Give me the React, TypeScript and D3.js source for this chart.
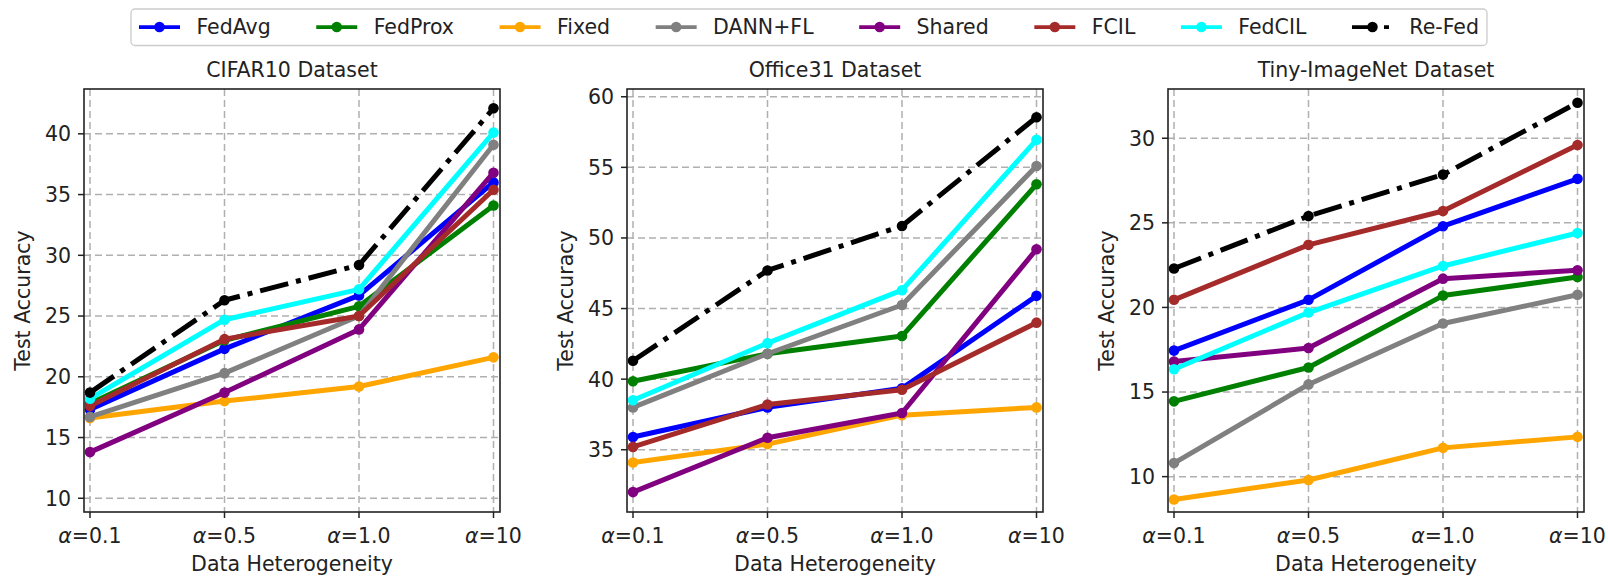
import React from 'react';
import * as d3 from 'd3';

// ---------- data ----------
const alphaLabels = ['0.1', '0.5', '1.0', '10'];
const methods = ['FedAvg', 'FedProx', 'Fixed', 'DANN+FL', 'Shared', 'FCIL', 'FedCIL', 'Re-Fed'];
const methodColors = ['#0000ff', '#008000', '#ffa500', '#808080', '#800080', '#a52a2a', '#00ffff', '#000000'];
const datasetTitles = ['CIFAR10 Dataset', 'Office31 Dataset', 'Tiny-ImageNet Dataset'];

// values per method (same order as `methods`), per alpha
const cifar10Values = [
  [17.3, 22.3, 26.7, 36.0],
  [17.8, 23.0, 25.8, 34.1],
  [16.6, 18.0, 19.2, 21.6],
  [16.7, 20.3, 25.0, 39.1],
  [13.8, 18.7, 23.9, 36.8],
  [17.6, 23.1, 25.0, 35.4],
  [18.2, 24.7, 27.2, 40.1],
  [18.7, 26.3, 29.2, 42.1],
];
const office31Values = [
  [35.9, 38.0, 39.35, 45.9],
  [39.85, 41.8, 43.05, 53.8],
  [34.1, 35.4, 37.45, 38.0],
  [38.0, 41.8, 45.25, 55.1],
  [32.0, 35.85, 37.6, 49.2],
  [35.2, 38.2, 39.25, 44.0],
  [38.5, 42.55, 46.3, 56.95],
  [41.3, 47.7, 50.85, 58.55],
];
const tinyImageNetValues = [
  [17.45, 20.45, 24.8, 27.6],
  [14.45, 16.45, 20.7, 21.8],
  [8.65, 9.8, 11.7, 12.35],
  [10.8, 15.45, 19.05, 20.75],
  [16.8, 17.6, 21.7, 22.2],
  [20.45, 23.7, 25.7, 29.6],
  [16.35, 19.7, 22.45, 24.4],
  [22.3, 25.4, 27.85, 32.1],
];

const cifar10Ticks = [10, 15, 20, 25, 30, 35, 40];
const office31Ticks = [35, 40, 45, 50, 55, 60];
const tinyImageNetTicks = [10, 15, 20, 25, 30];

const cifar10Limits = [8.87, 43.69];
const office31Limits = [30.59, 60.55];
const tinyImageNetLimits = [7.91, 32.91];

// ---------- layout ----------
const W = 1608;
const H = 576;
const FONT = '"DejaVu Sans", "Liberation Sans", sans-serif';
const FS = 20.5;
const panelLefts = [84, 627, 1168];
const panelW = 416;
const top = 89;
const bottom = 512;
const LW = 5;
const MR = 5.3;
const dashDot = '29,8,5,8';

function measure(text: string): number {
  if (typeof document === 'undefined') return text.length * FS * 0.6;
  const c = document.createElement('canvas');
  const ctx = c.getContext('2d');
  if (!ctx) return text.length * FS * 0.6;
  ctx.font = `${FS}px "DejaVu Sans"`;
  return ctx.measureText(text).width;
}

function Panel({ idx, values, ticks, limits }: { idx: number; values: number[][]; ticks: number[]; limits: number[] }) {
  const left = panelLefts[idx];
  const right = left + panelW;
  const x = d3.scaleLinear().domain([0, alphaLabels.length - 1]).range([left + 6, left + 409.5]);
  const y = d3.scaleLinear().domain(limits).range([bottom, top]);
  const line = d3
    .line<number>()
    .x((_, i) => x(i))
    .y((d) => y(d));
  const cx = (left + right) / 2;
  const cy = (top + bottom) / 2;
  return (
    <g>
      {ticks.map((t) => (
        <line key={'gy' + t} x1={left} x2={right} y1={y(t)} y2={y(t)} stroke="#b0b0b0" strokeWidth={1.5} strokeDasharray="7,4" />
      ))}
      {alphaLabels.map((_, i) => (
        <line key={'gx' + i} x1={x(i)} x2={x(i)} y1={top} y2={bottom} stroke="#b0b0b0" strokeWidth={1.5} strokeDasharray="7,4" />
      ))}
      {values.map((vals, m) => (
        <g key={methods[m]}>
          <path
            d={line(vals) || ''}
            fill="none"
            stroke={methodColors[m]}
            strokeWidth={LW}
            strokeLinejoin="round"
            strokeDasharray={methods[m] === 'Re-Fed' ? dashDot : undefined}
          />
          {vals.map((v, i) => (
            <circle key={i} cx={x(i)} cy={y(v)} r={MR} fill={methodColors[m]} />
          ))}
        </g>
      ))}
      <rect x={left} y={top} width={panelW} height={bottom - top} fill="none" stroke="#222" strokeWidth={1.6} />
      {ticks.map((t) => (
        <g key={'ty' + t}>
          <line x1={left - 6} x2={left} y1={y(t)} y2={y(t)} stroke="#222" strokeWidth={1.5} />
          <text x={left - 13} y={y(t) + 7.4} textAnchor="end" fontSize={FS} fontFamily={FONT} fill="#222">
            {t}
          </text>
        </g>
      ))}
      {alphaLabels.map((a, i) => (
        <g key={'tx' + i}>
          <line x1={x(i)} x2={x(i)} y1={bottom} y2={bottom + 6} stroke="#222" strokeWidth={1.5} />
          <text x={x(i)} y={542.5} textAnchor="middle" fontSize={FS} fontFamily={FONT} fill="#222">
            <tspan fontStyle="italic">α</tspan>
            <tspan>={a}</tspan>
          </text>
        </g>
      ))}
      <text x={cx} y={571} textAnchor="middle" fontSize={FS} fontFamily={FONT} fill="#222">
        Data Heterogeneity
      </text>
      <text
        transform={`translate(${left - 54},${cy}) rotate(-90)`}
        textAnchor="middle"
        fontSize={FS}
        fontFamily={FONT}
        fill="#222"
      >
        Test Accuracy
      </text>
      <text x={cx} y={76.5} textAnchor="middle" fontSize={FS} fontFamily={FONT} fill="#222">
        {datasetTitles[idx]}
      </text>
    </g>
  );
}

function Legend() {
  const boxLeft = 131;
  const boxRight = 1487;
  const pad = 8;
  const handleLen = 2 * FS;
  const textPad = 0.8 * FS;
  const widths = methods.map(measure);
  const used = widths.reduce((a, b) => a + b, 0) + methods.length * (handleLen + textPad) + 2 * pad;
  const colSpacing = (boxRight - boxLeft - used) / (methods.length - 1);
  let cur = boxLeft + pad;
  const items = methods.map((m, i) => {
    const hx = cur;
    cur += handleLen + textPad + widths[i] + colSpacing;
    return { m, i, hx };
  });
  const ly = 27;
  return (
    <g>
      <rect x={boxLeft} y={9} width={boxRight - boxLeft} height={36.5} rx={4} fill="#fff" fillOpacity={0.8} stroke="#cccccc" strokeWidth={1.3} />
      {items.map(({ m, i, hx }) => (
        <g key={m}>
          <line
            x1={hx}
            x2={hx + handleLen}
            y1={ly}
            y2={ly}
            stroke={methodColors[i]}
            strokeWidth={LW * 0.75}
            strokeDasharray={m === 'Re-Fed' ? '25,7,5,7' : undefined}
          />
          <circle cx={hx + handleLen / 2} cy={ly} r={MR} fill={methodColors[i]} />
          <text x={hx + handleLen + textPad} y={33.8} fontSize={FS} fontFamily={FONT} fill="#222">
            {m}
          </text>
        </g>
      ))}
    </g>
  );
}

export default function App() {
  return (
    <svg
      width={W}
      height={H}
      viewBox={`0 0 ${W} ${H}`}
      style={{ position: 'absolute', left: 0, top: 0, background: '#fff', display: 'block' }}
    >
      <rect x={0} y={0} width={W} height={H} fill="#fff" />
      <Legend />
      <Panel idx={0} values={cifar10Values} ticks={cifar10Ticks} limits={cifar10Limits} />
      <Panel idx={1} values={office31Values} ticks={office31Ticks} limits={office31Limits} />
      <Panel idx={2} values={tinyImageNetValues} ticks={tinyImageNetTicks} limits={tinyImageNetLimits} />
    </svg>
  );
}
